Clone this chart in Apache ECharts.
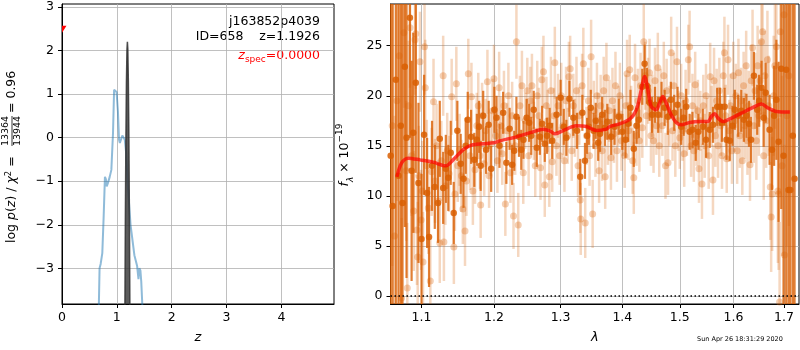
<!DOCTYPE html>
<html>
<head>
<meta charset="utf-8">
<script src="https://cdn.jsdelivr.net/npm/echarts@6/dist/echarts.min.js"></script>
<style>
  html, body { margin: 0; padding: 0; background: #fff; }
  #chart { width: 800px; height: 350px; }
</style>
</head>
<body>
<div id="chart"></div>
<script>
// ---- redshift panel: log p(z) ----
const zTicks = [0, 1, 2, 3, 4];
const logpTicks = [-3, -2, -1, 0, 1, 2, 3];

// photometric log p(z)
const photZ    = [0.660, 0.672, 0.685, 0.705, 0.735, 0.760, 0.783, 0.800, 0.815, 0.835, 0.870, 0.900, 0.930, 0.950, 0.975, 0.995, 1.020, 1.040, 1.055, 1.075, 1.100, 1.125, 1.145, 1.170, 1.200, 1.250, 1.320, 1.370, 1.395, 1.410, 1.430, 1.445, 1.465, 1.480];
const photLogP = [-4.6, -3.85, -3.00, -2.90, -2.65, -1.80, -0.90, -0.95, -1.12, -1.05, -0.90, -0.74, 0.10, 1.10, 1.12, 1.05, 0.60, -0.05, -0.12, -0.10, 0.05, 0.07, -0.05, -0.35, -1.10, -2.00, -2.70, -2.95, -3.25, -3.00, -3.05, -3.30, -3.85, -4.6];

// grism-fit log p(z)
const fitZ    = [1.146, 1.155, 1.165, 1.175, 1.185, 1.1926, 1.200, 1.210, 1.220, 1.230, 1.239];
const fitLogP = [-4.2, -2.0, -0.06, 1.28, 2.03, 2.20, 2.03, 1.28, -0.06, -2.0, -4.2];

// spectroscopic redshift marker
const zSpec = [[0.0, 2.49]];

// ---- spectrum panel ----
const lamTicks = [1.1, 1.2, 1.3, 1.4, 1.5, 1.6, 1.7];
const fluxTicks = [0, 5, 10, 15, 20, 25];

// [wavelength (um), flux, error] -- primary extraction
const darkPoints = [
  [1.0600, 14.0, 40], [1.0625, 9.0, 35], [1.0666, 21.6, 30], [1.0700, 12.0, 26], [1.0730, 17.0, 22],
  [1.0752, 9.3, 20], [1.0782, 22.9, 16], [1.0804, 15.8, 14], [1.0848, 27.8, 12], [1.0870, 12.5, 11],
  [1.0892, 16.3, 10], [1.0925, 21.3, 9], [1.0960, 11.3, 8], [1.1000, 5.7, 6.5], [1.1034, 16.1, 6],
  [1.1074, 10.3, 5.5], [1.1100, 5.9, 5], [1.1140, 13.0, 4.5], [1.1177, 10.9, 4.2], [1.1220, 9.3, 4],
  [1.1244, 15.7, 3.8], [1.1290, 10.8, 3.6], [1.1326, 12.7, 3.4], [1.1360, 11.8, 3.3], [1.1393, 14.3, 3.2],
  [1.1434, 8.3, 3.1], [1.1484, 16.5, 3], [1.1530, 13.2, 3], [1.1570, 11.7, 2.9], [1.1600, 15.0, 2.8],
  [1.1628, 17.6, 2.8], [1.1675, 15.9, 2.7], [1.1720, 13.6, 2.7], [1.1756, 15.6, 2.6], [1.1788, 16.9, 2.6],
  [1.1810, 13.0, 2.5], [1.1846, 18.0, 2.5], [1.1887, 14.6, 2.4], [1.1924, 17.1, 2.4], [1.1960, 12.7, 2.3],
  [1.2006, 18.6, 2.3], [1.2037, 17.8, 2.2], [1.2080, 15.0, 2.2], [1.2133, 18.3, 2.1], [1.2180, 13.3, 2.1],
  [1.2228, 16.7, 2.1], [1.2265, 13.1, 2.0], [1.2296, 14.5, 2.0], [1.2328, 17.9, 2.0], [1.2366, 15.9, 2.0],
  [1.2400, 14.6, 2.0], [1.2433, 15.6, 1.9], [1.2480, 17.8, 1.9], [1.2518, 17.3, 1.9], [1.2549, 16.0, 1.9],
  [1.2587, 18.6, 1.9], [1.2633, 14.8, 1.9], [1.2680, 15.9, 1.8], [1.2715, 17.2, 1.8], [1.2755, 15.2, 1.8],
  [1.2790, 16.0, 1.8], [1.2830, 17.0, 1.8], [1.2870, 15.5, 1.8], [1.2937, 18.1, 1.8], [1.3000, 19.8, 1.8],
  [1.3050, 16.9, 1.8], [1.3090, 15.8, 1.8], [1.3138, 19.7, 1.8], [1.3200, 17.8, 1.8], [1.3258, 16.5, 1.8],
  [1.3310, 11.9, 1.8], [1.3344, 18.3, 1.8], [1.3386, 13.5, 1.8], [1.3420, 16.0, 1.8], [1.3448, 16.9, 1.8],
  [1.3480, 18.8, 1.8], [1.3525, 16.5, 1.8], [1.3560, 17.5, 1.8], [1.3600, 15.3, 1.8], [1.3630, 16.2, 1.8],
  [1.3665, 18.1, 1.8], [1.3710, 16.8, 1.8], [1.3750, 17.4, 1.8], [1.3815, 15.9, 1.8], [1.3870, 16.9, 1.8],
  [1.3940, 17.9, 1.8], [1.4000, 16.4, 1.8], [1.4055, 15.6, 1.8], [1.4100, 17.2, 1.8], [1.4138, 18.8, 1.8],
  [1.4194, 14.7, 1.8], [1.4240, 17.0, 1.8], [1.4280, 17.6, 1.8], [1.4340, 20.9, 1.8], [1.4380, 23.2, 1.9],
  [1.4420, 21.0, 1.8], [1.4467, 19.3, 1.8], [1.4510, 18.1, 1.8], [1.4560, 19.1, 1.8], [1.4616, 18.1, 1.8],
  [1.4675, 19.6, 1.8], [1.4730, 18.8, 1.8], [1.4786, 17.9, 1.8], [1.4840, 19.6, 1.8], [1.4900, 18.3, 1.8],
  [1.4960, 19.1, 1.8], [1.5025, 16.9, 1.8], [1.5070, 17.8, 1.8], [1.5116, 18.9, 1.8], [1.5178, 16.4, 1.8],
  [1.5230, 16.6, 1.8], [1.5290, 15.3, 1.8], [1.5340, 16.4, 1.8], [1.5420, 16.9, 1.8], [1.5480, 15.6, 1.8],
  [1.5550, 16.6, 1.8], [1.5610, 17.1, 1.8], [1.5690, 18.9, 1.9], [1.5740, 18.9, 1.9], [1.5778, 17.3, 1.9],
  [1.5830, 18.9, 1.9], [1.5866, 15.6, 2.0], [1.5928, 15.5, 2.0], [1.5980, 17.0, 2.0], [1.6025, 18.6, 2.0],
  [1.6090, 18.0, 2.1], [1.6150, 18.5, 2.1], [1.6200, 17.6, 2.2], [1.6250, 18.0, 2.2], [1.6300, 17.2, 2.3],
  [1.6340, 15.6, 2.3], [1.6397, 22.0, 2.4], [1.6462, 18.6, 2.5], [1.6500, 19.5, 2.6], [1.6548, 20.8, 2.7],
  [1.6590, 17.8, 2.9], [1.6630, 20.3, 3.0], [1.6708, 16.6, 3.5], [1.6757, 14.6, 4.0], [1.6800, 18.0, 5.0],
  [1.6845, 19.6, 6.0], [1.6890, 15.4, 8.0], [1.6944, 22.7, 14], [1.6990, 14.0, 20], [1.7046, 22.6, 30],
  [1.7093, 10.6, 40], [1.7130, 10.6, 50], [1.7180, 16.0, 60], [1.7217, 11.7, 70]
];

// [wavelength (um), flux, error] -- other orientations
const lightPoints = [
  [1.0620, 17.0, 14], [1.0650, 6.0, 12], [1.0680, 19.5, 10], [1.0710, 24.0, 9], [1.0740, -0.2, 8],
  [1.0770, 26.3, 7.5], [1.0800, 12.5, 7], [1.0814, 0.8, 6.5], [1.0830, 19.0, 6.5], [1.0850, 26.8, 6],
  [1.0870, 14.0, 6], [1.0898, 8.5, 6], [1.0915, 25.6, 5.5], [1.0925, 26.2, 5.5], [1.0940, 6.6, 5.5],
  [1.0950, 3.9, 5.5], [1.0965, 12.0, 5], [1.0980, 23.4, 5], [1.0995, 7.6, 5],
  [1.1010, 10.5, 5], [1.1020, 3.4, 5], [1.1040, 24.9, 4.8], [1.1050, 20.8, 4.8], [1.1070, 13.0, 4.6],
  [1.1090, 8.8, 4.6], [1.1117, 1.5, 4.5], [1.1135, 12.4, 4.4], [1.1160, 19.4, 4.3], [1.1180, 11.5, 4.2],
  [1.1200, 15.0, 4.2], [1.1225, 9.5, 4.1], [1.1244, 5.3, 4.0], [1.1265, 13.5, 4.0], [1.1290, 22.0, 4.0],
  [1.1300, 5.4, 3.9], [1.1320, 11.0, 3.9], [1.1345, 14.5, 3.8], [1.1370, 12.2, 3.8], [1.1406, 19.9, 3.8],
  [1.1436, 4.9, 3.7], [1.1450, 10.2, 3.7], [1.1470, 21.2, 3.7], [1.1490, 13.0, 3.6], [1.1515, 14.6, 3.6],
  [1.1540, 12.0, 3.6], [1.1560, 8.7, 3.5], [1.1590, 6.5, 3.5], [1.1610, 11.5, 3.5], [1.1636, 22.2, 3.5],
  [1.1660, 14.0, 3.4], [1.1680, 19.9, 3.4], [1.1700, 10.5, 3.4], [1.1730, 12.6, 3.4], [1.1755, 17.0, 3.3],
  [1.1776, 19.0, 3.3], [1.1800, 14.0, 3.3], [1.1810, 9.1, 3.3], [1.1830, 18.0, 3.3], [1.1860, 13.2, 3.2],
  [1.1880, 16.5, 3.2], [1.1906, 21.4, 3.2], [1.1930, 12.0, 3.2], [1.1955, 15.2, 3.2], [1.1980, 18.5, 3.2],
  [1.2000, 21.7, 3.4], [1.2025, 16.0, 3.0], [1.2050, 13.5, 3.2], [1.2075, 20.8, 3.6], [1.2100, 17.0, 2.9],
  [1.2120, 14.2, 3.1], [1.2145, 19.0, 3.5], [1.2165, 9.2, 3.2], [1.2190, 16.5, 2.8], [1.2210, 20.0, 3.3],
  [1.2240, 12.3, 3.0], [1.2265, 18.0, 3.4], [1.2285, 8.0, 3.3], [1.2310, 15.0, 2.9], [1.2328, 25.4, 3.7],
  [1.2355, 7.1, 3.2], [1.2380, 19.0, 3.0], [1.2410, 21.0, 3.5], [1.2430, 12.3, 3.1], [1.2460, 17.5, 2.8],
  [1.2490, 20.5, 3.3], [1.2510, 14.0, 3.0], [1.2535, 19.5, 3.4], [1.2560, 21.0, 3.2], [1.2590, 16.5, 2.9],
  [1.2610, 13.0, 3.1], [1.2640, 20.0, 3.5], [1.2665, 18.0, 2.8], [1.2690, 12.8, 3.2], [1.2710, 21.6, 3.3],
  [1.2735, 22.4, 3.6], [1.2755, 11.1, 3.2], [1.2780, 19.0, 2.9], [1.2800, 17.5, 3.1], [1.2825, 11.9, 3.0],
  [1.2850, 20.5, 3.4], [1.2870, 13.4, 3.0], [1.2895, 18.0, 2.8], [1.2910, 23.3, 3.6], [1.2935, 15.0, 3.0],
  [1.2960, 19.0, 3.2], [1.2985, 14.0, 2.9],
  [1.3010, 20.0, 3.3], [1.3035, 17.0, 2.9], [1.3060, 13.5, 3.1], [1.3085, 19.5, 3.4], [1.3110, 16.0, 2.8],
  [1.3130, 21.9, 3.5], [1.3150, 22.7, 3.3], [1.3175, 14.5, 3.0], [1.3200, 19.0, 3.2], [1.3225, 16.8, 2.9],
  [1.3250, 20.5, 3.4], [1.3275, 13.0, 3.1], [1.3295, 18.0, 2.9], [1.3310, 9.6, 3.3], [1.3318, 7.7, 3.6],
  [1.3340, 21.0, 3.2], [1.3360, 23.2, 3.6], [1.3390, 7.3, 3.5], [1.3410, 16.0, 2.9], [1.3440, 19.5, 3.3],
  [1.3460, 14.0, 3.0], [1.3485, 23.9, 3.7], [1.3510, 8.2, 3.4], [1.3530, 18.5, 3.0], [1.3555, 15.0, 3.1],
  [1.3580, 20.0, 3.3], [1.3600, 17.5, 2.8], [1.3615, 12.5, 3.2], [1.3640, 19.0, 3.1], [1.3665, 14.5, 3.0],
  [1.3690, 20.5, 3.4], [1.3715, 11.9, 3.2], [1.3735, 21.8, 3.5], [1.3760, 16.0, 2.9], [1.3785, 18.5, 3.1],
  [1.3810, 13.8, 3.2], [1.3835, 19.5, 3.3], [1.3860, 16.2, 2.9], [1.3885, 21.0, 3.4], [1.3910, 14.5, 3.1],
  [1.3935, 18.0, 3.0], [1.3960, 20.0, 3.3], [1.3985, 15.5, 3.0],
  [1.4010, 17.0, 3.0], [1.4040, 14.0, 3.2], [1.4060, 19.0, 3.1], [1.4080, 22.2, 3.4], [1.4105, 16.5, 2.9],
  [1.4125, 22.6, 3.5], [1.4150, 18.0, 3.0], [1.4175, 13.5, 3.3], [1.4194, 11.8, 3.6], [1.4215, 21.8, 3.4],
  [1.4240, 16.0, 3.0], [1.4265, 19.5, 3.2], [1.4290, 15.5, 3.1], [1.4310, 21.0, 3.3], [1.4340, 16.8, 3.0],
  [1.4365, 25.4, 3.8], [1.4390, 22.0, 3.4], [1.4410, 18.0, 3.0], [1.4440, 20.5, 3.3], [1.4465, 22.3, 3.4],
  [1.4490, 16.0, 3.0], [1.4510, 19.0, 3.1], [1.4535, 15.5, 3.2], [1.4560, 21.5, 3.3], [1.4585, 17.0, 2.9],
  [1.4610, 22.8, 3.5], [1.4635, 15.0, 3.1], [1.4660, 19.5, 3.2], [1.4690, 17.0, 3.0], [1.4715, 22.0, 3.4],
  [1.4745, 13.0, 3.3], [1.4765, 20.5, 3.2], [1.4790, 13.3, 3.2], [1.4815, 18.0, 3.0], [1.4846, 24.3, 3.6],
  [1.4870, 16.5, 3.0], [1.4895, 21.0, 3.3], [1.4920, 15.0, 3.1], [1.4950, 23.4, 3.5], [1.4975, 17.5, 3.0],
  [1.5000, 15.8, 3.1], [1.5025, 20.0, 3.2], [1.5050, 16.5, 3.0], [1.5080, 14.2, 3.3], [1.5105, 19.5, 3.1],
  [1.5130, 17.0, 3.0], [1.5155, 23.6, 3.5], [1.5178, 24.9, 3.6], [1.5205, 15.0, 3.1], [1.5230, 19.0, 3.2],
  [1.5255, 14.5, 3.1], [1.5280, 21.1, 3.3], [1.5305, 16.0, 3.0], [1.5330, 18.5, 3.1], [1.5350, 12.7, 3.4],
  [1.5375, 17.5, 3.0], [1.5405, 11.2, 3.5], [1.5430, 19.0, 3.1], [1.5455, 15.0, 3.2], [1.5480, 20.0, 3.2],
  [1.5505, 16.8, 3.0], [1.5530, 14.0, 3.3], [1.5558, 21.9, 3.4], [1.5585, 18.0, 3.0], [1.5610, 11.6, 3.5],
  [1.5630, 21.5, 3.3], [1.5655, 16.0, 3.1], [1.5680, 19.5, 3.2], [1.5705, 15.0, 3.2], [1.5730, 20.5, 3.3],
  [1.5755, 17.0, 3.0], [1.5780, 14.0, 3.3], [1.5805, 22.0, 3.4], [1.5826, 24.3, 3.6], [1.5850, 18.0, 3.1],
  [1.5870, 13.7, 3.4], [1.5895, 23.6, 3.5], [1.5920, 16.5, 3.1], [1.5945, 19.0, 3.2], [1.5970, 14.5, 3.3],
  [1.5995, 22.0, 3.4], [1.6020, 17.5, 3.1], [1.6045, 20.0, 3.2], [1.6070, 14.5, 3.3], [1.6095, 22.3, 3.4],
  [1.6120, 16.0, 3.2], [1.6145, 19.5, 3.3], [1.6170, 13.5, 3.4], [1.6195, 21.0, 3.4], [1.6220, 17.0, 3.3],
  [1.6245, 23.0, 3.5], [1.6270, 15.5, 3.4], [1.6295, 19.0, 3.5], [1.6320, 13.1, 3.6], [1.6345, 21.5, 3.6],
  [1.6370, 24.8, 3.8], [1.6395, 17.0, 3.7], [1.6420, 20.5, 3.8], [1.6445, 15.5, 3.9], [1.6470, 23.0, 4.0],
  [1.6495, 18.0, 4.0], [1.6520, 21.5, 4.1], [1.6545, 25.4, 4.2], [1.6568, 26.4, 4.3], [1.6591, 14.0, 4.4],
  [1.6615, 22.0, 4.5], [1.6640, 17.5, 4.7], [1.6665, 23.6, 4.9], [1.6690, 19.0, 5.0], [1.6722, 10.9, 5.3],
  [1.6740, 7.9, 5.5], [1.6760, 10.2, 5.7], [1.6790, 20.0, 6.0], [1.6815, 23.0, 6.3], [1.6845, 24.9, 6.8],
  [1.6875, 10.5, 7.2], [1.6890, 10.2, 7.6], [1.6910, -0.6, 8.0], [1.6925, 26.4, 8.5], [1.6960, 13.0, 9.0],
  [1.7000, 28.1, 10], [1.7010, 4.1, 11], [1.7060, 18.0, 13], [1.7100, 22.0, 15]
];

// best-fit template
const modelWave = [1.068, 1.0739, 1.0824, 1.098, 1.1154, 1.1326, 1.1425, 1.1562, 1.168, 1.1843, 1.2, 1.2088, 1.2328, 1.2577, 1.2728, 1.2832, 1.2909, 1.304, 1.3249, 1.3409, 1.357, 1.3735, 1.379, 1.3956, 1.4125, 1.4238, 1.4323, 1.438, 1.4437, 1.4495, 1.4582, 1.464, 1.4698, 1.4757, 1.4846, 1.4935, 1.5025, 1.5178, 1.5362, 1.5517, 1.558, 1.5643, 1.5706, 1.5801, 1.5962, 1.6156, 1.6351, 1.6548, 1.668, 1.6845, 1.712];
const modelFlux = [11.9, 13.27, 13.77, 13.6, 13.37, 13.0, 13.6, 14.6, 15.07, 15.2, 15.3, 15.5, 15.9, 16.4, 16.67, 16.5, 16.2, 16.53, 17.0, 16.93, 16.53, 16.67, 16.93, 17.2, 17.67, 18.6, 20.6, 21.93, 20.6, 18.93, 18.6, 19.27, 19.93, 19.27, 18.1, 17.33, 17.1, 17.33, 17.43, 17.43, 17.93, 18.2, 17.77, 17.43, 17.77, 18.27, 18.77, 19.17, 18.77, 18.43, 18.37];

const FONT = 'DejaVu Sans';
const ORANGE = '#d95f02';
const minusFmt = v => (v < 0 ? '\u2212' + Math.abs(v) : String(v));

function errorBarSeries(name, points, width, opacity, z) {
  return {
    name: name,
    type: 'custom',
    xAxisIndex: 1,
    yAxisIndex: 1,
    clip: true,
    z: z,
    encode: { x: 0, y: 1 },
    data: points,
    renderItem: function (params, api) {
      const x = api.value(0), y = api.value(1), e = api.value(2);
      const lo = api.coord([x, y - e]);
      const hi = api.coord([x, y + e]);
      return {
        type: 'line',
        shape: { x1: lo[0], y1: lo[1], x2: hi[0], y2: hi[1] },
        style: { stroke: ORANGE, lineWidth: width, opacity: opacity }
      };
    }
  };
}

const axisLineStyle = { show: true, onZero: false, lineStyle: { color: '#000', width: 1 } };
const gridLineStyle = { show: true, lineStyle: { color: '#b0b0b0', width: 0.8 } };
const labelBase = { color: '#000', fontSize: 12.5, fontFamily: FONT };

const chart = echarts.init(document.getElementById('chart'), null, { renderer: 'canvas' });

const option = {
  animation: false,
  backgroundColor: '#fff',
  textStyle: { fontFamily: FONT },
  grid: [
    { left: 62, top: 4, width: 272, height: 300, show: true, borderColor: '#000', borderWidth: 1 },
    { left: 390.5, top: 4, width: 408.5, height: 300, show: true, borderColor: '#000', borderWidth: 1 }
  ],
  xAxis: [
    {
      type: 'value', gridIndex: 0, min: 0, max: 4.96,
      axisLine: axisLineStyle,
      axisTick: { show: true, length: 4, lineStyle: { color: '#000' }, customValues: zTicks },
      axisLabel: Object.assign({ customValues: zTicks, margin: 7 }, labelBase),
      splitLine: gridLineStyle,
      name: 'z', nameLocation: 'middle', nameGap: 27,
      nameTextStyle: { fontStyle: 'italic', fontSize: 13, color: '#000', fontFamily: FONT }
    },
    {
      type: 'log', logBase: 10, gridIndex: 1, min: 1.0598, max: 1.7309,
      axisLine: axisLineStyle,
      axisTick: { show: true, length: 4, lineStyle: { color: '#000' }, customValues: lamTicks },
      axisLabel: Object.assign({ customValues: lamTicks, margin: 7, formatter: v => Number(v).toFixed(1) }, labelBase),
      splitLine: gridLineStyle,
      minorTick: { show: false }, minorSplitLine: { show: false },
      name: '\u03bb', nameLocation: 'middle', nameGap: 27,
      nameTextStyle: { fontStyle: 'italic', fontSize: 13, color: '#000', fontFamily: FONT }
    }
  ],
  yAxis: [
    {
      type: 'value', gridIndex: 0, min: -3.82, max: 3.07,
      axisLine: axisLineStyle,
      axisTick: { show: true, length: 4, lineStyle: { color: '#000' }, customValues: logpTicks },
      axisLabel: Object.assign({ customValues: logpTicks, margin: 8, formatter: minusFmt }, labelBase),
      splitLine: gridLineStyle
    },
    {
      type: 'value', gridIndex: 1, min: -0.8, max: 29.17,
      axisLine: axisLineStyle,
      axisTick: { show: true, length: 4, lineStyle: { color: '#000' }, customValues: fluxTicks },
      axisLabel: Object.assign({ customValues: fluxTicks, margin: 8 }, labelBase),
      splitLine: gridLineStyle
    }
  ],
  series: [
    {
      name: 'p(z) photometry', type: 'line', xAxisIndex: 0, yAxisIndex: 0,
      data: photZ.map((z, i) => [z, photLogP[i]]),
      showSymbol: false, clip: true, z: 3,
      lineStyle: { color: '#1f77b4', width: 2, opacity: 0.5 }
    },
    {
      name: 'p(z) fit', type: 'line', xAxisIndex: 0, yAxisIndex: 0,
      data: fitZ.map((z, i) => [z, fitLogP[i]]),
      showSymbol: false, clip: true, z: 4,
      lineStyle: { color: '#333333', width: 1.5, opacity: 0.85 },
      areaStyle: { origin: 'start', color: '#333333', opacity: 0.8 }
    },
    {
      name: 'z_spec', type: 'custom', xAxisIndex: 0, yAxisIndex: 0, clip: true, z: 5,
      data: zSpec,
      renderItem: function (params, api) {
        const p = api.coord([api.value(0), api.value(1)]);
        return {
          type: 'polygon',
          shape: { points: [[p[0] - 4.5, p[1] - 3.5], [p[0] + 4.5, p[1] - 3.5], [p[0], p[1] + 3.5]] },
          style: { fill: '#ff0000' }
        };
      }
    },
    errorBarSeries('other bars', lightPoints, 2.5, 0.25, 2),
    {
      name: 'other points', type: 'scatter', xAxisIndex: 1, yAxisIndex: 1, z: 2,
      data: lightPoints.map(p => [p[0], p[1]]),
      symbolSize: 7, itemStyle: { color: ORANGE, opacity: 0.3 }
    },
    errorBarSeries('primary bars', darkPoints, 2.2, 0.8, 3),
    {
      name: 'primary points', type: 'scatter', xAxisIndex: 1, yAxisIndex: 1, z: 3,
      data: darkPoints.map(p => [p[0], p[1]]),
      symbolSize: 6.5, itemStyle: { color: ORANGE, opacity: 0.85 }
    },
    {
      name: 'model', type: 'line', xAxisIndex: 1, yAxisIndex: 1, z: 6,
      data: modelWave.map((w, i) => [w, modelFlux[i]]),
      showSymbol: false, smooth: 0.3, clip: true,
      lineStyle: { color: '#ff0000', width: 3.5, opacity: 0.7 },
      markLine: {
        silent: true, symbol: 'none', label: { show: false },
        lineStyle: { color: '#000', width: 1.5, type: [1.5, 2.5], opacity: 1 },
        data: [{ yAxis: 0 }]
      }
    }
  ],
  graphic: [
    // left-panel y label: log p(z) / chi^2 = n/d = 0.96
    {
      type: 'group', x: 12, y: 243, rotation: Math.PI / 2,
      children: [
        {
          type: 'text', x: 0, y: 0,
          style: {
            text: '{n|log }{i|p}{n|(}{i|z}{n|) / }{i|\u03c7}{s|2}{n| = }',
            align: 'left', verticalAlign: 'middle', textAlign: 'left', textVerticalAlign: 'middle',
            fill: '#000',
            rich: {
              n: { fontFamily: FONT, fontSize: 12.5, lineHeight: 16, verticalAlign: 'middle' },
              i: { fontFamily: FONT, fontSize: 12.5, fontStyle: 'italic', lineHeight: 16, verticalAlign: 'middle' },
              s: { fontFamily: FONT, fontSize: 8.5, lineHeight: 9, verticalAlign: 'top' }
            }
          }
        },
        { type: 'text', x: 112, y: -6, style: { text: '13364', fontFamily: FONT, fontSize: 9.5, fill: '#000', align: 'center', verticalAlign: 'middle', textAlign: 'center', textVerticalAlign: 'middle' } },
        { type: 'line', shape: { x1: 97, y1: 0, x2: 127, y2: 0 }, style: { stroke: '#000', lineWidth: 0.8 } },
        { type: 'text', x: 112, y: 6, style: { text: '13944', fontFamily: FONT, fontSize: 9.5, fill: '#000', align: 'center', verticalAlign: 'middle', textAlign: 'center', textVerticalAlign: 'middle' } },
        { type: 'text', x: 130, y: 0, style: { text: '= 0.96', fontFamily: FONT, fontSize: 12.5, fill: '#000', align: 'left', verticalAlign: 'middle', textAlign: 'left', textVerticalAlign: 'middle' } }
      ]
    },
    // right-panel y label: f_lambda x 10^-19
    {
      type: 'group', x: 345, y: 155, rotation: Math.PI / 2,
      children: [
        {
          type: 'text', x: 0, y: 0,
          style: {
            text: '{i|f}{s|\u03bb}{n| \u00d7 10}{p|\u221219}',
            align: 'center', verticalAlign: 'middle', textAlign: 'center', textVerticalAlign: 'middle',
            fill: '#000',
            rich: {
              n: { fontFamily: FONT, fontSize: 12.5, lineHeight: 20, verticalAlign: 'middle' },
              i: { fontFamily: FONT, fontSize: 12.5, fontStyle: 'italic', lineHeight: 20, verticalAlign: 'middle' },
              s: { fontFamily: FONT, fontSize: 9, fontStyle: 'italic', lineHeight: 10, verticalAlign: 'bottom' },
              p: { fontFamily: FONT, fontSize: 9, lineHeight: 10, verticalAlign: 'top' }
            }
          }
        }
      ]
    },
    // object annotations
    { type: 'text', x: 320, y: 22, style: { text: 'j163852p4039', fontFamily: FONT, fontSize: 12.5, fill: '#000', align: 'right', verticalAlign: 'middle', textAlign: 'right', textVerticalAlign: 'middle' } },
    { type: 'text', x: 320, y: 37, style: { text: 'ID=658    z=1.1926', fontFamily: FONT, fontSize: 12.5, fill: '#000', align: 'right', verticalAlign: 'middle', textAlign: 'right', textVerticalAlign: 'middle' } },
    {
      type: 'text', x: 320, y: 56,
      style: {
        text: '{i|z}{s|spec}{n|=0.0000}',
        fill: '#ff0000', align: 'right', verticalAlign: 'middle', textAlign: 'right', textVerticalAlign: 'middle',
        rich: {
          n: { fontFamily: FONT, fontSize: 12.5, lineHeight: 16, fill: '#ff0000', verticalAlign: 'middle' },
          i: { fontFamily: FONT, fontSize: 12.5, fontStyle: 'italic', lineHeight: 16, fill: '#ff0000', verticalAlign: 'middle' },
          s: { fontFamily: FONT, fontSize: 9, lineHeight: 11, fill: '#ff0000', verticalAlign: 'bottom' }
        }
      }
    },
    // timestamp
    { type: 'text', x: 697, y: 339, style: { text: 'Sun Apr 26 18:31:29 2020', fontFamily: FONT, fontSize: 6.5, fill: '#000', align: 'left', verticalAlign: 'middle', textAlign: 'left', textVerticalAlign: 'middle' } }
  ]
};

chart.setOption(option);
</script>
</body>
</html>
